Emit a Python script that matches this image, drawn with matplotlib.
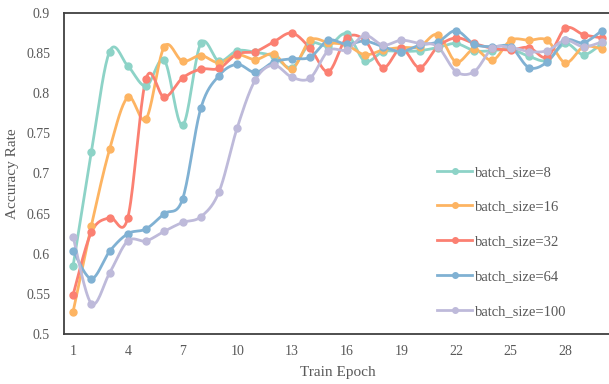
import numpy as np
import matplotlib
matplotlib.use("Agg")
import matplotlib.pyplot as plt
from matplotlib.lines import Line2D

epochs = list(range(1, 31))
labels = ["batch_size=8", "batch_size=16", "batch_size=32", "batch_size=64", "batch_size=100"]
colors = ["#8dd3c7", "#fdb462", "#fb8072", "#80b1d3", "#bebada"]

bs8 = [0.585, 0.727, 0.852, 0.834, 0.809, 0.841, 0.760, 0.862, 0.840, 0.853,
       0.851, 0.846, 0.832, 0.862, 0.859, 0.874, 0.840, 0.852, 0.852, 0.853,
       0.857, 0.862, 0.853, 0.853, 0.855, 0.846, 0.841, 0.862, 0.848, 0.862]
bs16 = [0.528, 0.635, 0.730, 0.795, 0.768, 0.858, 0.840, 0.847, 0.838, 0.848,
        0.842, 0.849, 0.830, 0.866, 0.863, 0.860, 0.848, 0.854, 0.857, 0.858,
        0.873, 0.839, 0.855, 0.841, 0.866, 0.866, 0.866, 0.838, 0.858, 0.855]
bs32 = [0.549, 0.627, 0.645, 0.645, 0.818, 0.795, 0.819, 0.830, 0.831, 0.849,
        0.852, 0.864, 0.875, 0.856, 0.827, 0.869, 0.866, 0.832, 0.856, 0.832,
        0.858, 0.869, 0.862, 0.856, 0.854, 0.857, 0.845, 0.881, 0.873, 0.869]
bs64 = [0.604, 0.569, 0.603, 0.625, 0.631, 0.650, 0.668, 0.781, 0.822, 0.836,
        0.826, 0.839, 0.843, 0.845, 0.866, 0.861, 0.865, 0.858, 0.852, 0.860,
        0.864, 0.878, 0.861, 0.858, 0.858, 0.832, 0.839, 0.866, 0.863, 0.878]
bs100 = [0.621, 0.538, 0.576, 0.616, 0.616, 0.628, 0.639, 0.646, 0.677, 0.757,
         0.817, 0.835, 0.820, 0.819, 0.853, 0.854, 0.872, 0.860, 0.866, 0.862,
         0.858, 0.827, 0.827, 0.856, 0.857, 0.852, 0.853, 0.866, 0.858, 0.864]
series = [bs8, bs16, bs32, bs64, bs100]

xticks = [1, 4, 7, 10, 13, 16, 19, 22, 25, 28]
yticks = [0.5, 0.55, 0.6, 0.65, 0.7, 0.75, 0.8, 0.85, 0.9]
ytick_labels = ["0.5", "0.55", "0.6", "0.65", "0.7", "0.75", "0.8", "0.85", "0.9"]


def smooth(x, y, n=20):
    x = np.asarray(x, float)
    y = np.asarray(y, float)
    px = np.concatenate([[x[0]], x, [x[-1]]])
    py = np.concatenate([[y[0]], y, [y[-1]]])
    xs, ys = [], []
    t = np.linspace(0, 1, n)
    for i in range(1, len(px) - 2):
        p0x, p0y = px[i], py[i]
        p3x, p3y = px[i + 1], py[i + 1]
        c1x = p0x + (px[i + 1] - px[i - 1]) / 6
        c1y = p0y + (py[i + 1] - py[i - 1]) / 6
        c2x = p3x - (px[i + 2] - px[i]) / 6
        c2y = p3y - (py[i + 2] - py[i]) / 6
        bx = (1 - t) ** 3 * p0x + 3 * (1 - t) ** 2 * t * c1x + 3 * (1 - t) * t ** 2 * c2x + t ** 3 * p3x
        by = (1 - t) ** 3 * p0y + 3 * (1 - t) ** 2 * t * c1y + 3 * (1 - t) * t ** 2 * c2y + t ** 3 * p3y
        xs.append(bx)
        ys.append(by)
    return np.concatenate(xs), np.concatenate(ys)


plt.rcParams['font.family'] = ['Liberation Serif', 'DejaVu Serif']
text_color = "#595959"

fig = plt.figure(figsize=(6.09, 3.84), dpi=100)
ax = fig.add_axes([64 / 609, 50 / 384, 547 / 609, 321 / 384])

for vals, c, lab in zip(series, colors, labels):
    sx, sy = smooth(epochs, vals)
    ax.plot(sx, sy, color=c, lw=2.0, solid_capstyle='round', zorder=2)
    ax.plot(epochs, vals, 'o', color=c, ms=5, zorder=3)

ax.set_xlim(0.5, 30.5)
ax.set_ylim(0.5, 0.9)
ax.set_xticks(xticks)
ax.set_xticklabels([str(v) for v in xticks])
ax.set_yticks(yticks)
ax.set_yticklabels(ytick_labels)
ax.tick_params(length=0, labelsize=10, colors=text_color, pad=8)
ax.tick_params(axis='y', pad=10)
for s in ['left', 'bottom', 'top']:
    ax.spines[s].set_color("#404040")
    ax.spines[s].set_linewidth(1.3)
ax.spines['right'].set_visible(False)

ax.set_xlabel("Train Epoch", fontsize=11, color=text_color, labelpad=6)
ax.set_ylabel("Accuracy Rate", fontsize=11, color=text_color, labelpad=5)

handles = [Line2D([0], [0], color=c, lw=2.0, marker='o', ms=4) for c in colors]
leg = ax.legend(handles, labels, loc='upper left', bbox_to_anchor=(0.672, 0.543),
                frameon=False, fontsize=10.5, labelspacing=1.48, handlelength=2.4,
                handletextpad=0.2, borderaxespad=0)
for t in leg.get_texts():
    t.set_color(text_color)

fig.savefig("out.png", dpi=100)
